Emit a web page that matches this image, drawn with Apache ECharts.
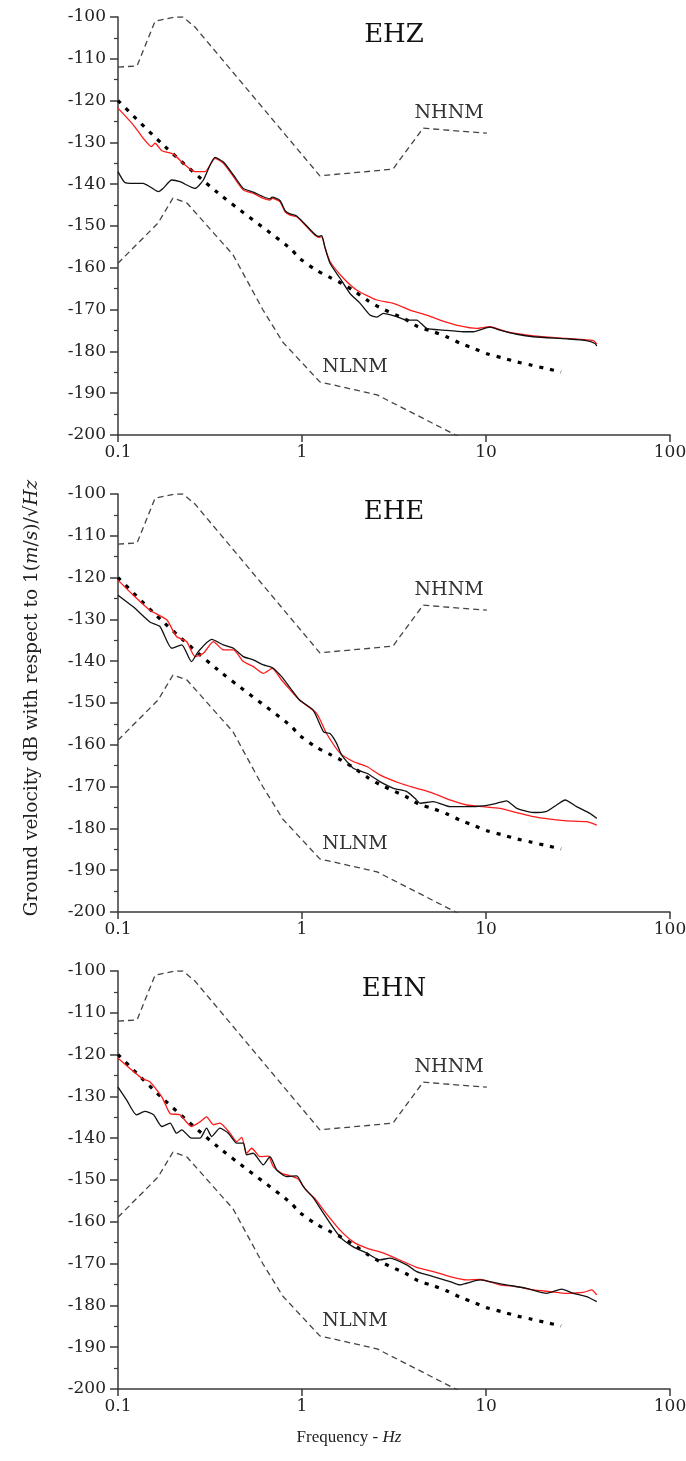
<!DOCTYPE html>
<html><head><meta charset="utf-8">
<script src="https://cdn.jsdelivr.net/npm/echarts@6/dist/echarts.min.js"></script>
<style>html,body{margin:0;padding:0;background:#fff}#c{width:686px;height:1461px}</style>
</head><body><div id="c"></div>
<script>
// ---- data: [frequency Hz, dB] ----
const panelNames = ['EHZ', 'EHE', 'EHN'];
const xTickValues = [0.1, 1, 10, 100];
const yMin = -200, yMax = -100, yStep = 10;

const nhnm = [[0.1,-112],[0.127,-111.7],[0.159,-101],[0.205,-100],[0.225,-100],[0.262,-102.4],[1.25,-138],[3.12,-136.4],[4.55,-126.6],[10.1,-127.8]];
const nlnm = [[0.1,-158.9],[0.165,-149.3],[0.199,-143.3],[0.237,-144.5],[0.422,-156.9],[0.614,-170.1],[0.787,-177.8],[1.25,-187.3],[2.56,-190.4],[7.2,-200.5]];
const modelCurve = [[0.1,-120],[0.176,-130.6],[0.35,-142.1],[0.86,-155.3],[0.97,-157.7],[1.18,-160.4],[1.42,-162.3],[1.64,-163.7],[1.94,-165.7],[2.29,-167.9],[2.65,-169.5],[3.71,-172.5],[4.27,-174.1],[5.17,-175.3],[6.1,-176.5],[7.22,-178.0],[8.7,-179.4],[10.2,-180.6],[12.4,-181.6],[14.7,-182.5],[17.7,-183.3],[21.2,-184.1],[25.6,-184.9]];

const ehzRed = [[0.1,-121.8],[0.121,-125.8],[0.137,-129.0],[0.152,-131.0],[0.159,-130.2],[0.173,-132.0],[0.2,-132.8],[0.226,-135.0],[0.262,-137.0],[0.297,-137.0],[0.337,-133.8],[0.374,-135.0],[0.424,-138.2],[0.48,-141.4],[0.544,-142.2],[0.617,-143.4],[0.67,-143.8],[0.688,-143.4],[0.759,-144.2],[0.809,-146.6],[0.861,-147.4],[0.935,-147.8],[1.02,-149.4],[1.15,-151.8],[1.23,-152.7],[1.28,-152.6],[1.33,-155.0],[1.42,-158.5],[1.68,-162.5],[1.98,-165.3],[2.55,-167.7],[3.14,-168.5],[3.86,-170.1],[4.76,-171.3],[5.62,-172.5],[7.22,-173.9],[8.9,-174.5],[10.5,-174.1],[12.9,-175.3],[18.1,-176.3],[27.5,-176.9],[38.3,-177.4],[40,-178.2]];
const ehzBlack = [[0.1,-137.0],[0.109,-139.6],[0.121,-139.8],[0.137,-139.8],[0.149,-140.6],[0.166,-141.8],[0.176,-141.0],[0.196,-139.0],[0.217,-139.4],[0.262,-141.0],[0.291,-139.0],[0.337,-133.6],[0.374,-134.7],[0.424,-137.8],[0.48,-141.0],[0.544,-141.9],[0.617,-143.0],[0.67,-143.5],[0.688,-143.1],[0.759,-143.9],[0.809,-146.3],[0.861,-147.1],[0.935,-147.6],[1.02,-149.2],[1.15,-151.6],[1.23,-152.5],[1.28,-152.3],[1.33,-155.0],[1.42,-158.9],[1.61,-162.5],[1.82,-166.1],[2.07,-168.5],[2.34,-171.3],[2.55,-171.8],[2.77,-170.9],[3.27,-171.7],[3.71,-172.5],[4.2,-172.5],[4.76,-174.5],[5.86,-174.9],[7.53,-175.3],[8.53,-175.3],[10.5,-174.2],[11.9,-174.9],[14.7,-175.9],[18.1,-176.5],[27.5,-177.0],[35.2,-177.4],[39.1,-178.1],[40,-178.7]];

const eheRed = [[0.1,-120.6],[0.121,-124.2],[0.149,-127.8],[0.184,-130.1],[0.208,-134.1],[0.236,-135.3],[0.262,-138.9],[0.291,-138.1],[0.33,-135.3],[0.374,-137.3],[0.424,-137.3],[0.48,-140.1],[0.544,-141.3],[0.617,-142.9],[0.688,-141.7],[0.775,-144.5],[0.86,-146.8],[0.97,-149.3],[1.2,-152.5],[1.36,-157.3],[1.61,-162.0],[1.9,-164.0],[2.25,-165.2],[2.65,-167.2],[3.41,-169.2],[4.2,-170.4],[5.17,-171.6],[6.37,-173.2],[7.85,-174.4],[9.67,-174.8],[11.9,-175.2],[14.7,-176.2],[18.1,-177.2],[22.3,-177.8],[27.5,-178.2],[35.2,-178.4],[40,-179.2]];
const eheBlack = [[0.1,-124.2],[0.121,-127.0],[0.149,-130.6],[0.169,-131.7],[0.196,-136.9],[0.222,-136.1],[0.251,-140.1],[0.273,-137.7],[0.323,-134.8],[0.374,-136.1],[0.424,-136.9],[0.48,-138.9],[0.544,-139.7],[0.617,-140.9],[0.688,-141.5],[0.775,-143.7],[0.86,-146.3],[0.97,-149.3],[1.15,-151.7],[1.31,-156.9],[1.42,-157.3],[1.54,-159.6],[1.64,-162.4],[1.9,-165.6],[2.25,-166.8],[2.65,-168.8],[3.14,-170.4],[3.71,-171.2],[4.11,-172.8],[4.38,-174.0],[5.17,-173.6],[6.37,-174.8],[7.85,-174.8],[9.67,-174.6],[11.4,-174.0],[12.9,-173.4],[14.7,-175.2],[18.1,-176.2],[21.4,-175.9],[24.2,-174.4],[26.9,-173.2],[31.1,-174.8],[36.7,-176.4],[40,-177.6]];

const ehnRed = [[0.1,-120.9],[0.116,-123.3],[0.135,-125.7],[0.149,-126.5],[0.173,-130.1],[0.192,-134.1],[0.217,-134.4],[0.251,-137.2],[0.279,-136.1],[0.303,-134.9],[0.33,-136.8],[0.358,-136.4],[0.406,-138.8],[0.442,-140.8],[0.47,-139.8],[0.5,-143.6],[0.533,-142.4],[0.591,-144.4],[0.656,-144.3],[0.698,-146.8],[0.776,-148.4],[0.861,-149.0],[0.955,-149.8],[1.06,-152.6],[1.18,-154.5],[1.31,-157.2],[1.61,-162.0],[1.9,-164.8],[2.25,-166.3],[2.77,-167.5],[3.55,-169.5],[4.2,-170.9],[5.17,-171.9],[6.37,-173.1],[7.85,-173.9],[9.28,-173.8],[11.9,-175.1],[14.7,-175.5],[18.1,-176.3],[22.3,-176.7],[27.5,-177.1],[33.8,-176.9],[37.5,-176.3],[40,-177.5]];
const ehnBlack = [[0.1,-127.8],[0.1115,-130.9],[0.126,-134.4],[0.14,-133.6],[0.156,-134.4],[0.173,-137.2],[0.192,-136.4],[0.208,-138.8],[0.222,-138.0],[0.251,-140.0],[0.279,-140.0],[0.303,-137.6],[0.323,-139.6],[0.358,-137.6],[0.398,-138.8],[0.442,-141.2],[0.48,-141.2],[0.5,-144.0],[0.543,-143.6],[0.616,-146.4],[0.67,-144.4],[0.729,-147.6],[0.826,-149.2],[0.936,-149.0],[1.017,-151.6],[1.15,-154.2],[1.31,-158.0],[1.61,-163.6],[1.9,-166.0],[2.25,-167.5],[2.65,-169.1],[3.01,-168.7],[3.71,-170.3],[4.2,-171.9],[5.17,-173.1],[6.37,-174.3],[7.22,-175.1],[7.85,-174.7],[9.28,-173.9],[10.5,-174.3],[12.9,-175.1],[16.6,-175.9],[21.4,-177.1],[25.8,-176.1],[29.8,-177.1],[35.2,-177.9],[40,-179.1]];

const redSeries = [ehzRed, eheRed, ehnRed];
const blackSeries = [ehzBlack, eheBlack, ehnBlack];
const nhnmLabelAt = [6.3, -123];
const nlnmLabelAt = [1.94, -183.7];

// ---- layout / style ----
const FONT = 'DejaVu Serif';
const AX = '#3a3a3a';
const gridTops = [17, 494, 971];
const gridH = 418, gridLeft = 118, gridW = 552;

const grids = [], xAxes = [], yAxes = [], series = [], graphics = [];
gridTops.forEach((top, i) => {
  grids.push({left: gridLeft, top: top, width: gridW, height: gridH, outerBoundsMode: 'none'});
  xAxes.push({
    type: 'log', logBase: 10, gridIndex: i, min: xTickValues[0], max: xTickValues[xTickValues.length - 1],
    axisLine: {show: true, lineStyle: {color: AX, width: 1.5}},
    axisTick: {show: true, length: 7, lineStyle: {color: AX, width: 1.5}},
    minorTick: {show: false}, splitLine: {show: false},
    axisLabel: {fontFamily: FONT, fontSize: 17, color: '#222', margin: 9,
      formatter: v => String(+(+v).toPrecision(3))}
  });
  yAxes.push({
    type: 'value', gridIndex: i, min: yMin, max: yMax, interval: yStep,
    axisLine: {show: true, lineStyle: {color: AX, width: 1.5}},
    axisTick: {show: true, length: 8, lineStyle: {color: AX, width: 1.5}},
    minorTick: {show: true, splitNumber: 2, length: 4, lineStyle: {color: AX, width: 1.2}},
    splitLine: {show: false},
    axisLabel: {fontFamily: FONT, fontSize: 17, color: '#222', margin: 12}
  });
  const dashed = {color: '#444', width: 1.3, type: [6, 4]};
  series.push({
    type: 'line', xAxisIndex: i, yAxisIndex: i, data: nhnm, symbol: 'none', lineStyle: dashed,
    markPoint: {symbol: 'rect', symbolSize: 1, itemStyle: {color: 'rgba(0,0,0,0)'},
      data: [{coord: nhnmLabelAt, value: 'NHNM'}],
      label: {show: true, position: 'inside', formatter: 'NHNM', fontFamily: FONT, fontSize: 19, color: '#333'}}
  });
  series.push({
    type: 'line', xAxisIndex: i, yAxisIndex: i, data: nlnm, symbol: 'none', lineStyle: dashed,
    markPoint: {symbol: 'rect', symbolSize: 1, itemStyle: {color: 'rgba(0,0,0,0)'},
      data: [{coord: nlnmLabelAt, value: 'NLNM'}],
      label: {show: true, position: 'inside', formatter: 'NLNM', fontFamily: FONT, fontSize: 19, color: '#333'}}
  });
  series.push({
    type: 'line', xAxisIndex: i, yAxisIndex: i, data: modelCurve, symbol: 'none', smooth: 0.3,
    lineStyle: {color: '#000', width: 3.2, type: [4, 7]}
  });
  series.push({
    type: 'line', xAxisIndex: i, yAxisIndex: i, data: redSeries[i], symbol: 'none', smooth: 0.2,
    lineStyle: {color: '#ff1a1a', width: 1.3}
  });
  series.push({
    type: 'line', xAxisIndex: i, yAxisIndex: i, data: blackSeries[i], symbol: 'none', smooth: 0.2,
    lineStyle: {color: '#111', width: 1.3}
  });
  graphics.push({type: 'text', x: 394, y: top + 18,
    style: {text: panelNames[i], font: '26px "' + FONT + '"', fill: '#111', align: 'center', verticalAlign: 'middle'}});
});

graphics.push({type: 'text', x: 32, y: 698, rotation: Math.PI / 2,
  style: {text: 'Ground velocity dB with respect to 1({i|m}/{i|s})/√{i|Hz}',
    font: '18.5px "' + FONT + '"', fill: '#222', align: 'center', verticalAlign: 'middle',
    rich: {i: {fontStyle: 'italic', fontFamily: FONT, fontSize: 18.5, fill: '#222'}}}});
graphics.push({type: 'text', x: 349, y: 1438,
  style: {text: 'Frequency - {i|Hz}', font: '17px "Liberation Serif"', fill: '#222', align: 'center', verticalAlign: 'middle',
    rich: {i: {fontStyle: 'italic', fontFamily: 'Liberation Serif', fontSize: 17, fill: '#222'}}}});

const chart = echarts.init(document.getElementById('c'), null, {renderer: 'canvas'});
chart.setOption({
  animation: false, backgroundColor: '#fff',
  grid: grids, xAxis: xAxes, yAxis: yAxes, series: series, graphic: graphics
});
</script></body></html>
